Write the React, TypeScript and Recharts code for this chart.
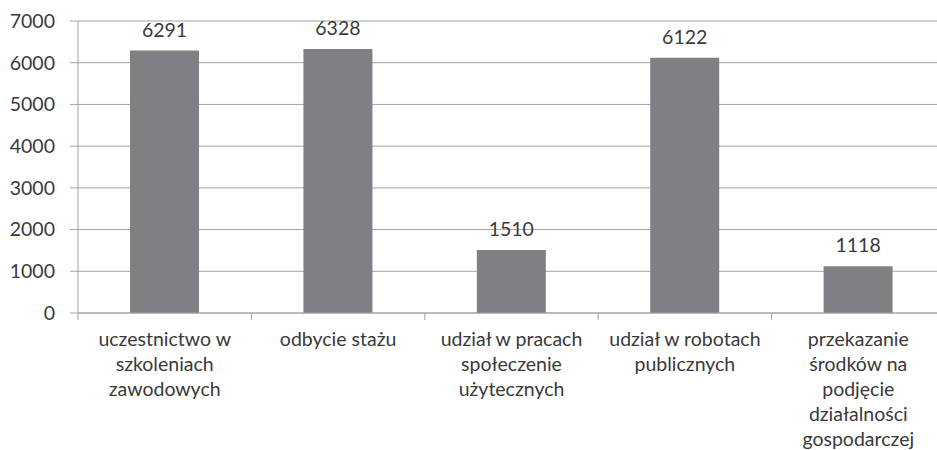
import React from 'react';
import { BarChart, Bar, XAxis, YAxis, CartesianGrid, LabelList } from 'recharts';

const categories = [
  'uczestnictwo w\nszkoleniach\nzawodowych',
  'odbycie stażu',
  'udział w pracach\nspołeczenie\nużytecznych',
  'udział w robotach\npublicznych',
  'przekazanie\nśrodków na\npodjęcie\ndziałalności\ngospodarczej',
];
const values = [6291, 6328, 1510, 6122, 1118];
const yTicks = [0, 1000, 2000, 3000, 4000, 5000, 6000, 7000];

const data = categories.map((name, i) => ({ name, value: values[i] }));

const CHART_W = 945;
const AXIS_W = 78;
const BAND = (CHART_W - AXIS_W) / categories.length;
const FONT = 'Lato, "Open Sans", sans-serif';
const FS = 19.5;
const TEXT = '#3a3a3a';
const LINE = '#a3a3a3';

// category label: split on newlines, plus a separator tick at the band's left edge
const CategoryTick = (props: any) => {
  const { x, y, payload } = props;
  const lines = String(payload.value).split('\n');
  return (
    <g>
      <line x1={x - BAND / 2} x2={x - BAND / 2} y1={y} y2={y + 7} stroke={LINE} strokeWidth={1} />
      <text x={x} y={y + 33} textAnchor="middle" fill={TEXT} fontSize={FS} fontFamily={FONT}>
        {lines.map((l, i) => (
          <tspan key={i} x={x} dy={i === 0 ? 0 : 25}>
            {l}
          </tspan>
        ))}
      </text>
    </g>
  );
};

export default function App() {
  return (
    <div style={{ position: 'absolute', left: 0, top: 0, width: 937, height: 450, overflow: 'hidden', background: '#fff' }}>
      <BarChart
        width={CHART_W}
        height={450}
        data={data}
        margin={{ top: 21, right: 0, left: 0, bottom: 0 }}
        barCategoryGap="30%"
      >
        <CartesianGrid vertical={false} stroke={LINE} strokeWidth={1} />
        <XAxis
          dataKey="name"
          interval={0}
          height={137}
          tickSize={0}
          tickMargin={0}
          tickLine={false}
          axisLine={{ stroke: LINE }}
          tick={<CategoryTick />}
        />
        <YAxis
          width={AXIS_W}
          domain={[0, 7000]}
          ticks={yTicks}
          interval={0}
          tickSize={8}
          tickMargin={15}
          axisLine={{ stroke: LINE }}
          tickLine={{ stroke: LINE }}
          tick={{ fill: TEXT, fontSize: FS, fontFamily: FONT }}
        />
        <Bar dataKey="value" fill="#7f8084" isAnimationActive={false}>
          <LabelList dataKey="value" position="top" offset={14} fill={TEXT} fontSize={FS} fontFamily={FONT} />
        </Bar>
      </BarChart>
    </div>
  );
}
